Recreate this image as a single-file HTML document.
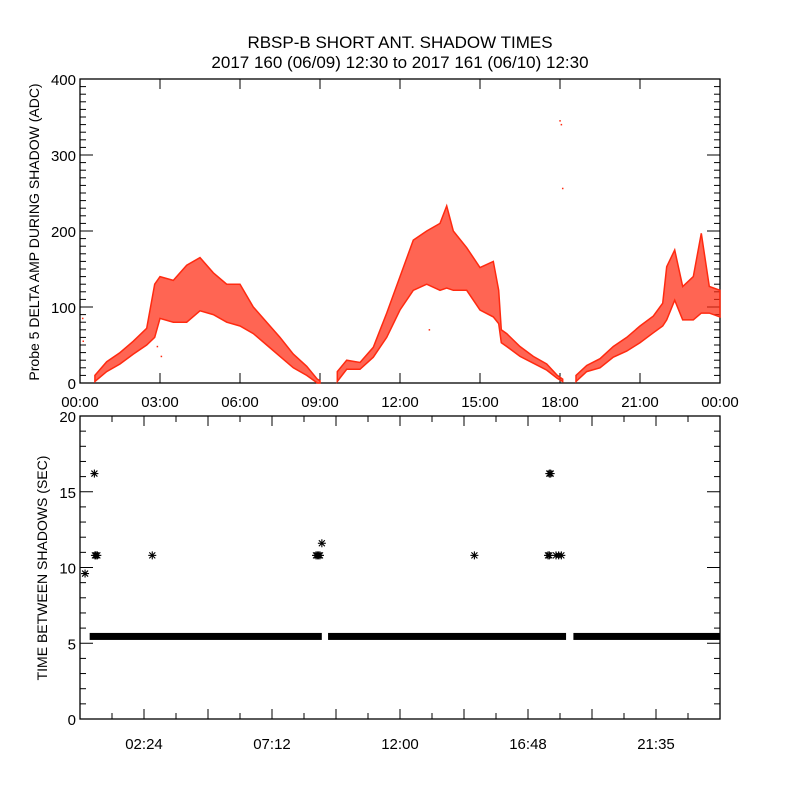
<!DOCTYPE html>
<html><head><meta charset="utf-8"><style>
html,body{margin:0;padding:0;background:#fff;}
svg{display:block;font-family:"Liberation Sans",sans-serif;}
</style></head><body>
<svg id="c" width="800" height="800" viewBox="0 0 800 800">
<text x="400" y="48" text-anchor="middle" font-size="17">RBSP-B SHORT ANT. SHADOW TIMES</text>
<text x="400" y="68" text-anchor="middle" font-size="17">2017 160 (06/09) 12:30 to 2017 161 (06/10) 12:30</text>
<text transform="translate(39,232) rotate(-90)" text-anchor="middle" font-size="14">Probe 5 DELTA AMP DURING SHADOW (ADC)</text>
<text transform="translate(47,568) rotate(-90)" text-anchor="middle" font-size="14">TIME BETWEEN SHADOWS (SEC)</text>
<g id="topPanel"></g><g id="botPanel"></g>
</svg>
<script>
// Top panel data (hours, low/high envelope of the ADC scatter)
const ampHours=[0.56,1,1.5,2,2.5,2.8,3,3.5,4,4.5,5,5.5,6,6.5,7,7.5,8,8.5,8.9,9.0];
const ampLow=[2,15,25,38,50,60,85,80,80,95,90,80,75,65,50,35,20,10,0,0];
const ampHigh=[10,28,40,55,72,130,140,135,155,165,145,130,130,100,80,60,38,22,5,3];
const ampHours2=[9.65,10,10.5,11,11.5,12,12.5,13,13.5,13.75,14,14.5,15,15.5,15.7,15.8,16,16.5,17,17.5,17.9,18.1];
const ampLow2=[2,18,18,34,60,96,122,130,122,125,122,122,96,87,78,53,48,35,26,17,6,2];
const ampHigh2=[15,30,27,47,92,140,188,200,210,233,200,178,152,160,122,70,65,48,35,25,10,5];
const ampHours3=[18.6,19,19.5,20,20.5,21,21.5,21.85,22,22.3,22.6,23,23.3,23.6,24];
const ampLow3=[2,15,20,34,42,53,66,75,83,109,83,83,92,92,87];
const ampHigh3=[10,23,32,48,60,75,88,105,153,175,127,140,197,127,122];
const ampOutHours=[0.1,0.12,2.9,3.05,13.1,18.0,18.05,18.1];
const ampOutVals=[85,55,48,35,70,345,340,256];
// Bottom panel data
const gapSegStart=[0.4,9.34,18.54];
const gapSegEnd=[9.03,18.19,24];
const gapBase=[5.45,5.45,5.45];
const outHours=[0.19,0.54,0.56,0.6,0.65,2.71,8.85,8.9,8.95,9.0,9.07,14.79,17.55,17.6,17.6,17.65,17.85,17.95,18.05];
const outVals=[9.6,16.2,10.8,10.8,10.8,10.8,10.8,10.8,10.8,10.8,11.6,10.8,10.8,10.8,16.2,16.2,10.8,10.8,10.8];
const topXTicks=["00:00","03:00","06:00","09:00","12:00","15:00","18:00","21:00","00:00"];
const topYTicks=[0,100,200,300,400];
const botXTicks=["02:24","07:12","12:00","16:48","21:35"];
const botYTicks=[0,5,10,15,20];

const NS="http://www.w3.org/2000/svg";
function mk(parent,tag,attrs){const e=document.createElementNS(NS,tag);for(const k in attrs)e.setAttribute(k,attrs[k]);parent.appendChild(e);return e;}
const L=80,R=720;
const xh=h=>L+h*(R-L)/24;
const T1=79,B1=383,yt=v=>B1-v*(B1-T1)/400;
const T2=416,B2=719,yb=v=>B2-v*(B2-T2)/20;
const topG=document.getElementById('topPanel'),botG=document.getElementById('botPanel');

let f=mk(topG,'rect',{x:L,y:T1,width:R-L,height:B1-T1,fill:'none',stroke:'#000','stroke-width':1.3});


for(let v=0;v<=400;v+=10){const big=v%100===0;const len=big?13:6;
 mk(topG,'line',{x1:L,x2:L+len,y1:yt(v),y2:yt(v),stroke:'#000'});
 mk(topG,'line',{x1:R,x2:R-len,y1:yt(v),y2:yt(v),stroke:'#000'});}
topYTicks.forEach(v=>{const t=mk(topG,'text',{x:L-4,y:yt(v)+6,'text-anchor':'end','font-size':15});t.textContent=v;
 
 });
topXTicks.forEach((s,i)=>{const x=xh(i*3);
 mk(topG,'line',{x1:x,x2:x,y1:B1,y2:B1-10,stroke:'#000'});mk(topG,'line',{x1:x,x2:x,y1:T1,y2:T1+10,stroke:'#000'});
 const t=mk(topG,'text',{x:x,y:B1+24,'text-anchor':'middle','font-size':15});t.textContent=s;
 
 });
function band(hs,lo,hi,name){
 let d='M'+hs.map((h,i)=>xh(h).toFixed(1)+','+yt(hi[i]).toFixed(1)).join('L');
 d+='L'+hs.slice().reverse().map((h,j)=>{const i=hs.length-1-j;return xh(h).toFixed(1)+','+yt(lo[i]).toFixed(1);}).join('L')+'Z';
 const p=mk(topG,'path',{d:d,fill:'#ff2a10','fill-opacity':0.72,stroke:'#ff2a10','stroke-width':1.5});
 
 }
band(ampHours,ampLow,ampHigh,'amp-series-1');
band(ampHours2,ampLow2,ampHigh2,'amp-series-2');
band(ampHours3,ampLow3,ampHigh3,'amp-series-3');
ampOutHours.forEach((h,i)=>{const r=mk(topG,'rect',{x:xh(h)-0.7,y:yt(ampOutVals[i])-0.7,width:1.5,height:1.5,fill:'#ff2a10'});
 
 });

f=mk(botG,'rect',{x:L,y:T2,width:R-L,height:B2-T2,fill:'none',stroke:'#000','stroke-width':1.3});


for(let v=0;v<=20;v+=1){const big=v%5===0;const len=big?13:6;
 mk(botG,'line',{x1:L,x2:L+len,y1:yb(v),y2:yb(v),stroke:'#000'});
 mk(botG,'line',{x1:R,x2:R-len,y1:yb(v),y2:yb(v),stroke:'#000'});}
botYTicks.forEach(v=>{const t=mk(botG,'text',{x:L-4,y:yb(v)+6,'text-anchor':'end','font-size':15});t.textContent=v;
 
 });
for(let k=1;k<20;k++){const x=xh(k*1.2);const big=k%2===0;const len=big?10:6;
 mk(botG,'line',{x1:x,x2:x,y1:B2,y2:B2-len,stroke:'#000'});mk(botG,'line',{x1:x,x2:x,y1:T2,y2:T2+len,stroke:'#000'});}
botXTicks.forEach((s,i)=>{const x=xh(2.4+i*4.8);
 const t=mk(botG,'text',{x:x,y:B2+30,'text-anchor':'middle','font-size':15});t.textContent=s;
 
 });
gapSegStart.forEach((h,i)=>{const x0=xh(h)-1;const x1=Math.min(R,xh(gapSegEnd[i])+1);
 const r=mk(botG,'rect',{x:x0,y:yb(gapBase[i])-3.5,width:x1-x0,height:7,fill:'#000'});
 
 });
function star(x,y){const g=mk(botG,'g',{stroke:'#000','stroke-width':1.1});
 mk(g,'line',{x1:x-4,x2:x+4,y1:y,y2:y});mk(g,'line',{x1:x,x2:x,y1:y-4,y2:y+4});
 mk(g,'line',{x1:x-3,x2:x+3,y1:y-3,y2:y+3});mk(g,'line',{x1:x-3,x2:x+3,y1:y+3,y2:y-3});return g;}
outHours.forEach((h,i)=>{const g=star(xh(h),yb(outVals[i]));
 
 });
</script>
</body></html>
